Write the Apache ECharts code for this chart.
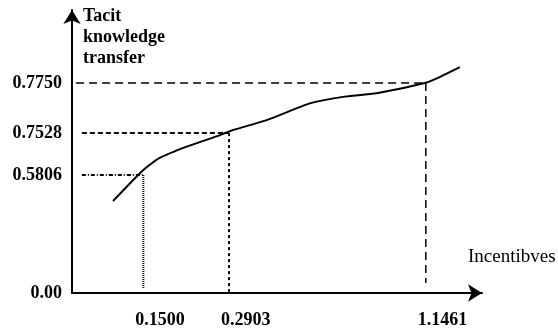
<!DOCTYPE html>
<html>
<head>
<meta charset="utf-8">
<script src="https://cdn.jsdelivr.net/npm/echarts@6/dist/echarts.min.js"></script>
<style>
  html, body { margin: 0; padding: 0; background: #fff; }
  #chart { width: 558px; height: 335px; }
</style>
</head>
<body>
<div id="chart"></div>
<script>
// schematic chart: axes are in drawing units (0-100), labels carry the real values
const xTickPos = [17.4, 38.3, 86.3]
const xTickLabels = ['0.1500', '0.2903', '1.1461']
const yTickPos = [0, 41.7, 56.5, 74.2]
const yTickLabels = ['0.00', '0.5806', '0.7528', '0.7750']

// curve
const curveX = [10.0, 17.4, 21.5, 28.0, 36.1, 39.3, 47.5, 58.0, 66.1, 74.3, 86.3, 89.8, 94.6]
const curveY = [32.5, 43.5, 47.8, 51.7, 55.8, 57.6, 61.1, 67.0, 69.3, 70.6, 74.3, 76.4, 79.8]

// where each guide starts (left) and stops (bottom)
const guideStart = [2.4, 2.4, 1.0]
const guideEnd = [1.8, 0.4, 3.5]

const font = '"Liberation Serif", "Times New Roman", serif'

const chart = echarts.init(document.getElementById('chart'))

const guideStyles = [
    { h: [4, 2, 1, 2], v: [1, 1], w: 2 },
    { h: [5, 3], v: [3, 3], w: 2 },
    { h: [8, 5], v: [8, 5], w: 1.5 }
]

const guides = xTickPos.map((x, i) => {
    const y = yTickPos[i + 1]
    const st = guideStyles[i]
    return [
        {
            type: 'line',
            data: [[guideStart[i], y], [x, y]],
            symbol: 'none',
            silent: true,
            lineStyle: { color: '#000', width: st.w, type: st.h }
        },
        {
            type: 'line',
            data: [[x, y], [x, guideEnd[i]]],
            symbol: 'none',
            silent: true,
            lineStyle: { color: '#000', width: st.w, type: st.v }
        }
    ]
}).flat()

const axisLine = {
    lineStyle: { color: '#000', width: 2 },
    symbol: ['none', 'arrow'],
    symbolSize: [13, 14]
}

const option = {
    animation: false,
    grid: { left: 72, right: 76, top: 10, bottom: 42 },
    xAxis: {
        type: 'value',
        min: 0,
        max: 100,
        splitLine: { show: false },
        axisTick: { show: false },
        axisLine: axisLine,
        axisLabel: {
            customValues: xTickPos,
            formatter: v => xTickLabels[xTickPos.indexOf(v)] ?? '',
            color: '#000',
            fontFamily: font,
            fontSize: 18,
            fontWeight: 'bold',
            align: 'left',
            padding: [0, 0, 0, -8],
            margin: 18
        }
    },
    yAxis: {
        type: 'value',
        min: 0,
        max: 100,
        splitLine: { show: false },
        axisTick: { show: false },
        axisLine: axisLine,
        axisLabel: {
            customValues: yTickPos,
            formatter: v => yTickLabels[yTickPos.indexOf(v)] ?? '',
            color: '#000',
            fontFamily: font,
            fontSize: 18,
            fontWeight: 'bold',
            margin: 10
        }
    },
    graphic: [
        {
            type: 'text',
            left: 83,
            top: 6,
            style: {
                text: 'Tacit\nknowledge\ntransfer',
                font: 'bold 18px ' + font,
                lineHeight: 21,
                fill: '#000'
            }
        },
        {
            type: 'text',
            left: 468,
            top: 248,
            style: {
                text: 'Incentibves',
                font: '19px ' + font,
                fill: '#000'
            }
        }
    ],
    series: [
        {
            type: 'line',
            data: curveX.map((x, i) => [x, curveY[i]]),
            smooth: 0.2,
            symbol: 'none',
            lineStyle: { color: '#000', width: 2 }
        },
        ...guides
    ]
}

chart.setOption(option)
</script>
</body>
</html>
